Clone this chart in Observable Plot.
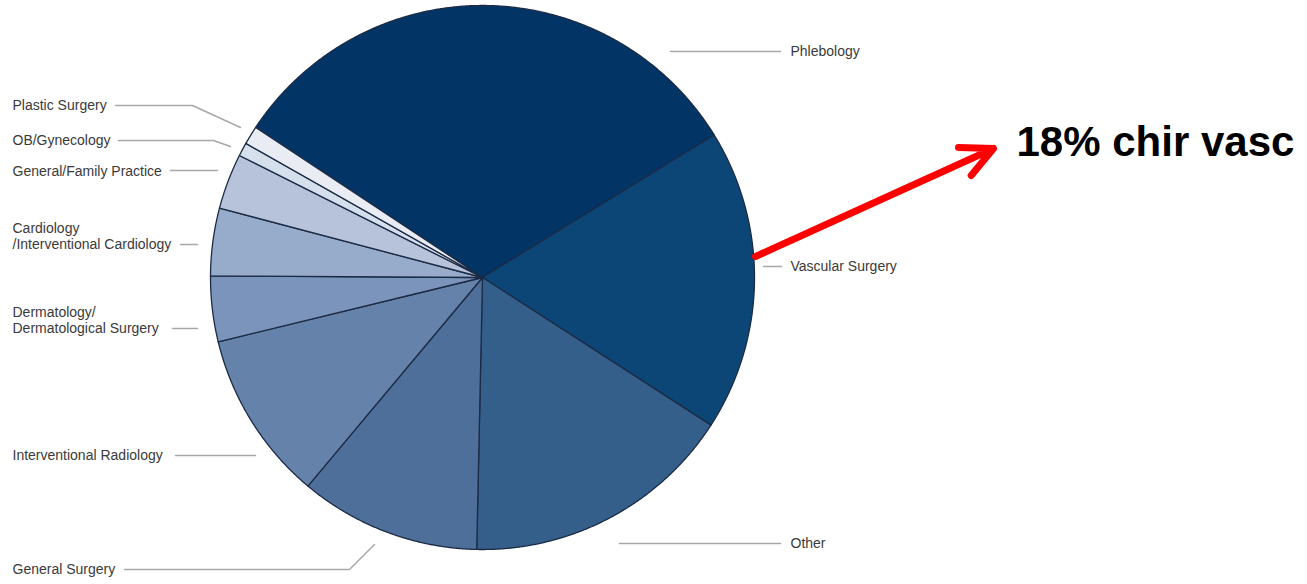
<!DOCTYPE html>
<html><head><meta charset="utf-8">
<script src="https://cdn.jsdelivr.net/npm/d3@7"></script>
<script src="https://cdn.jsdelivr.net/npm/@observablehq/plot@0.6"></script>
<style>body{margin:0;background:#fff;overflow:hidden}</style>
</head><body><div id="chart"></div>
<script>
// ---- data ----
const categories = ["Phlebology","Vascular Surgery","Other","General Surgery","Interventional Radiology","Dermatology/\nDermatological Surgery","Cardiology\n/Interventional Cardiology","General/Family Practice","OB/Gynecology","Plastic Surgery"];
const shares = [31.9, 17.9, 16.2, 10.75, 10.1, 3.9, 4.0, 3.3, 0.8, 1.1];
const sliceColors = ["#023565","#0b4677","#335f8a","#4d6f99","#6582ab","#7b94bb","#97abcb","#b6c3da","#d6dfec","#e9edf3"];
const annotationText = "18% chir vasc";

// ---- layout ----
const W = 1307, H = 584, cx = 482, cy = 277, R = 272;
const startAngle = -56.5; // degrees clockwise from top
const toU = ([px, py]) => [(px - cx) / R, (cy - py) / R];
// label placement (pixels)
const labelPlace = [[790,50],[790,265],[790,542],[12,568],[12,454],[12,319],[12,235],[12,170],[12,139],[12,104]];
const leaders = [
  [[670,51],[780,51]],
  [[763,266],[781,266]],
  [[619,543],[780,543]],
  [[124,569],[349,569],[374,544]],
  [[175,455],[255,455]],
  [[172,328],[197,328]],
  [[180,244],[197,244]],
  [[170,170],[217,170]],
  [[118,140],[213,140],[230,146]],
  [[115,105],[192,105],[240,127]]
];

const total = d3.sum(shares);
let acc = startAngle;
const wedges = shares.map((v, i) => {
  const a0 = acc, a1 = acc + v / total * 360; acc = a1;
  const n = Math.max(2, Math.ceil((a1 - a0) / 0.25));
  const pts = [[0, 0]];
  for (let k = 0; k <= n; k++) {
    const t = (a0 + (a1 - a0) * k / n) * Math.PI / 180;
    pts.push([Math.sin(t), Math.cos(t)]);
  }
  pts.push([0, 0]);
  return {pts, color: sliceColors[i]};
});

const marks = [];
wedges.forEach(w => marks.push(Plot.line(w.pts, {x: d => d[0], y: d => d[1], fill: w.color, stroke: "#1c2b45", strokeWidth: 1.3, strokeLinejoin: "round", curve: "linear"})));
leaders.forEach(l => marks.push(Plot.line(l.map(toU), {x: d => d[0], y: d => d[1], stroke: "#a8a8a8", strokeWidth: 1.5})));
const labelData = categories.map((c, i) => {
  const [x, y] = toU(labelPlace[i]);
  return {x, y, text: c};
});
marks.push(Plot.text(labelData, {x: "x", y: "y", text: "text", textAnchor: "start", lineAnchor: "middle", fontSize: 14, lineHeight: 1.17, fill: "#3a3a3a"}));
const [ax1, ay1] = toU([755, 256]);
const [ax2, ay2] = toU([993, 148]);
marks.push(Plot.arrow([{x1: ax1, y1: ay1, x2: ax2, y2: ay2}], {x1: "x1", y1: "y1", x2: "x2", y2: "y2", stroke: "#ff0000", strokeWidth: 7, headLength: 7.5, headAngle: 52}));
const [tx, ty] = toU([1016, 142]);
marks.push(Plot.text([{x: tx, y: ty, text: annotationText}], {x: "x", y: "y", text: "text", textAnchor: "start", lineAnchor: "middle", fontSize: 42, fontWeight: "bold", fill: "#000"}));

const chart = Plot.plot({
  width: W, height: H, margin: 0,
  x: {domain: [-cx / R, (W - cx) / R], range: [0, W], axis: null},
  y: {domain: [cy / R, (cy - H) / R], range: [0, H], axis: null},
  style: {fontFamily: "'Liberation Sans', Arial, sans-serif", background: "#fff"},
  marks
});
document.getElementById("chart").appendChild(chart);
</script>
</body></html>
